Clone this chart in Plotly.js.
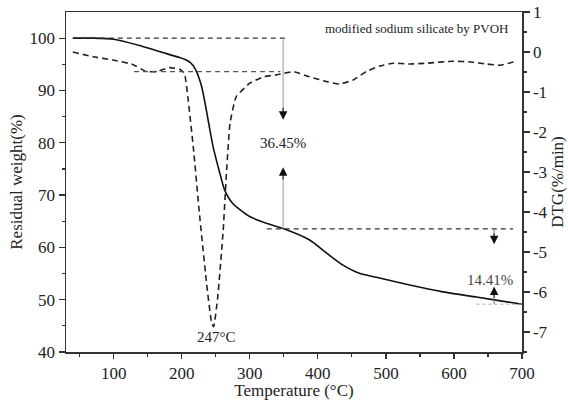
<!DOCTYPE html>
<html>
<head>
<meta charset="utf-8">
<script src="https://cdn.plot.ly/plotly-3.0.1.min.js"></script>
<style>
  html, body { margin: 0; padding: 0; background: #fff; }
  #chart { width: 568px; height: 400px; }
</style>
</head>
<body>
<div id="chart"></div>
<script>
// Thermogravimetric curve (residual weight, %)
const tgTemp = [40, 70, 100, 138, 168, 197, 205, 212, 220, 229, 236, 246, 256, 263, 275, 300, 329, 349, 388, 413, 437, 462, 486, 535, 584, 633, 692, 700];
const tgWeight = [100, 100, 99.8, 98.6, 97.4, 96.3, 95.9, 95.4, 94.1, 90.9, 86.4, 79.3, 74.2, 71.0, 68.4, 65.9, 64.4, 63.6, 61.4, 58.9, 56.6, 55.0, 54.3, 52.8, 51.5, 50.5, 49.3, 49.14];

// Derivative thermogravimetric curve (%/min)
const dtgTemp = [40, 70, 99, 128, 148, 163, 182, 197, 204, 209, 217, 226, 236, 244, 247, 253, 261, 266, 271, 280, 300, 320, 340, 364, 388, 413, 432, 452, 471, 491, 511, 535, 560, 599, 625, 648, 668, 688];
const dtgRate = [0.0, -0.12, -0.2, -0.31, -0.49, -0.49, -0.39, -0.43, -0.53, -1.12, -2.37, -4.03, -5.7, -6.78, -6.87, -6.12, -4.45, -2.95, -1.78, -1.12, -0.78, -0.62, -0.57, -0.49, -0.62, -0.74, -0.8, -0.7, -0.49, -0.35, -0.28, -0.3, -0.28, -0.23, -0.25, -0.3, -0.33, -0.25];

// Tick labels
const xTicks = [100, 200, 300, 400, 500, 600, 700];
const yTicks = [40, 50, 60, 70, 80, 90, 100];
const y2Ticks = [1, 0, -1, -2, -3, -4, -5, -6, -7];
const y2TickText = ["1", "0", "-1", "-2", "-3", "-4", "-5", "-6", "-7"];

// Weight-loss steps
const startWeight = 100;
const step1Loss = 36.45;
const step2Loss = 14.41;
const peakTemp = 247;
const midWeight = startWeight - step1Loss;
const endWeight = midWeight - step2Loss;

const serif = "Liberation Serif, Times New Roman, serif";
const axisColor = "#333";

const traces = [
  {
    x: tgTemp, y: tgWeight, type: "scatter", mode: "lines",
    line: { color: "#111", width: 1.6, shape: "spline", smoothing: 0.6 },
    yaxis: "y", hoverinfo: "skip"
  },
  {
    x: dtgTemp, y: dtgRate, type: "scatter", mode: "lines",
    line: { color: "#222", width: 1.6, dash: "6px,4px", shape: "spline", smoothing: 0.4 },
    yaxis: "y2", hoverinfo: "skip"
  }
];

const shapes = [
  // initial weight reference
  { type: "line", xref: "x", yref: "y", x0: 40, x1: 355, y0: startWeight, y1: startWeight,
    line: { color: "#333", width: 1.2, dash: "5px,4px" } },
  // DTG baseline
  { type: "line", xref: "x", yref: "y", x0: 130, x1: 345, y0: 93.6, y1: 93.6,
    line: { color: "#555", width: 1.2, dash: "5px,4px" } },
  // weight after first step
  { type: "line", xref: "x", yref: "y", x0: 325, x1: 687, y0: midWeight, y1: midWeight,
    line: { color: "#333", width: 1.2, dash: "5px,4px" } },
  // final weight
  { type: "line", xref: "x", yref: "y", x0: 633, x1: 700, y0: endWeight, y1: endWeight,
    line: { color: "#aaa", width: 1, dash: "dot" } },
  // first-step guide lines
  { type: "line", xref: "x", yref: "y", x0: 349, x1: 349, y0: startWeight, y1: 86,
    line: { color: "#999", width: 1 } },
  { type: "line", xref: "x", yref: "y", x0: 349, x1: 349, y0: midWeight, y1: 73.5,
    line: { color: "#999", width: 1 } },
  // second-step guide lines
  { type: "line", xref: "x", yref: "y", x0: 659, x1: 659, y0: midWeight, y1: 62,
    line: { color: "#777", width: 1 } },
  { type: "line", xref: "x", yref: "y", x0: 659, x1: 659, y0: endWeight, y1: 51,
    line: { color: "#777", width: 1 } }
];

function arrowHead(x, yFrom, yTo) {
  return {
    x: x, y: yTo, ax: x, ay: yFrom, xref: "x", yref: "y", axref: "x", ayref: "y",
    text: "", showarrow: true, arrowhead: 2, arrowsize: 1.7, arrowwidth: 1, arrowcolor: "#111"
  };
}

const annotations = [
  arrowHead(349, 87, 84.4),
  arrowHead(349, 72.7, 75.3),
  arrowHead(659, 63, 60.6),
  arrowHead(659, 50.1, 52.5),
  { x: 349, y: 80, xref: "x", yref: "y", text: step1Loss.toFixed(2) + "%", showarrow: false,
    font: { family: serif, size: 15, color: "#222" } },
  { x: 653, y: 53.8, xref: "x", yref: "y", text: step2Loss.toFixed(2) + "%", showarrow: false,
    font: { family: serif, size: 15, color: "#444" } },
  { x: 251, y: 42.9, xref: "x", yref: "y", text: peakTemp + "°C", showarrow: false,
    font: { family: serif, size: 15, color: "#222" } },
  { x: 683, y: 101.8, xref: "x", yref: "y", xanchor: "right", text: "modified sodium silicate by PVOH",
    showarrow: false, font: { family: serif, size: 13, color: "#222" } }
];

const layout = {
  width: 568, height: 400,
  margin: { l: 66, r: 46, t: 12, b: 48 },
  paper_bgcolor: "#fff", plot_bgcolor: "#fff",
  showlegend: false,
  font: { family: serif, size: 17, color: "#222" },
  xaxis: {
    range: [30, 700], tickvals: xTicks, showgrid: false, zeroline: false,
    showline: true, mirror: true, linecolor: axisColor, linewidth: 1.5,
    ticks: "outside", ticklen: 5, tickwidth: 1.3, tickcolor: axisColor,
    minor: { tickvals: [50, 150, 250, 350, 450, 550, 650], ticks: "outside", ticklen: 3, tickwidth: 1.2, tickcolor: axisColor },
    title: { text: "Temperature (°C)", font: { family: serif, size: 17 }, standoff: 1 },
    tickfont: { family: serif, size: 17 }
  },
  yaxis: {
    range: [40, 105], tickvals: yTicks, showgrid: false, zeroline: false,
    showline: true, linecolor: axisColor, linewidth: 1.5,
    ticks: "outside", ticklen: 6, tickwidth: 1.3, tickcolor: axisColor,
    minor: { tickvals: [45, 55, 65, 75, 85, 95], ticks: "outside", ticklen: 3, tickwidth: 1.2, tickcolor: axisColor },
    title: { text: "Residual weight(%)", font: { family: serif, size: 17 }, standoff: 2 },
    tickfont: { family: serif, size: 17 }
  },
  yaxis2: {
    overlaying: "y", side: "right", range: [-7.5, 1],
    tickvals: y2Ticks, ticktext: y2TickText, showgrid: false, zeroline: false,
    showline: true, linecolor: axisColor, linewidth: 1.5,
    ticks: "outside", ticklen: 6, tickwidth: 1.3, tickcolor: axisColor,
    minor: { tickvals: [0.5, -0.5, -1.5, -2.5, -3.5, -4.5, -5.5, -6.5, -7.5], ticks: "outside", ticklen: 3, tickwidth: 1.2, tickcolor: axisColor },
    title: { text: "DTG(%/min)", font: { family: serif, size: 17 }, standoff: 2 },
    tickfont: { family: serif, size: 17 }
  },
  shapes: shapes,
  annotations: annotations
};

Plotly.newPlot("chart", traces, layout, { staticPlot: true, displayModeBar: false });
</script>
</body>
</html>
